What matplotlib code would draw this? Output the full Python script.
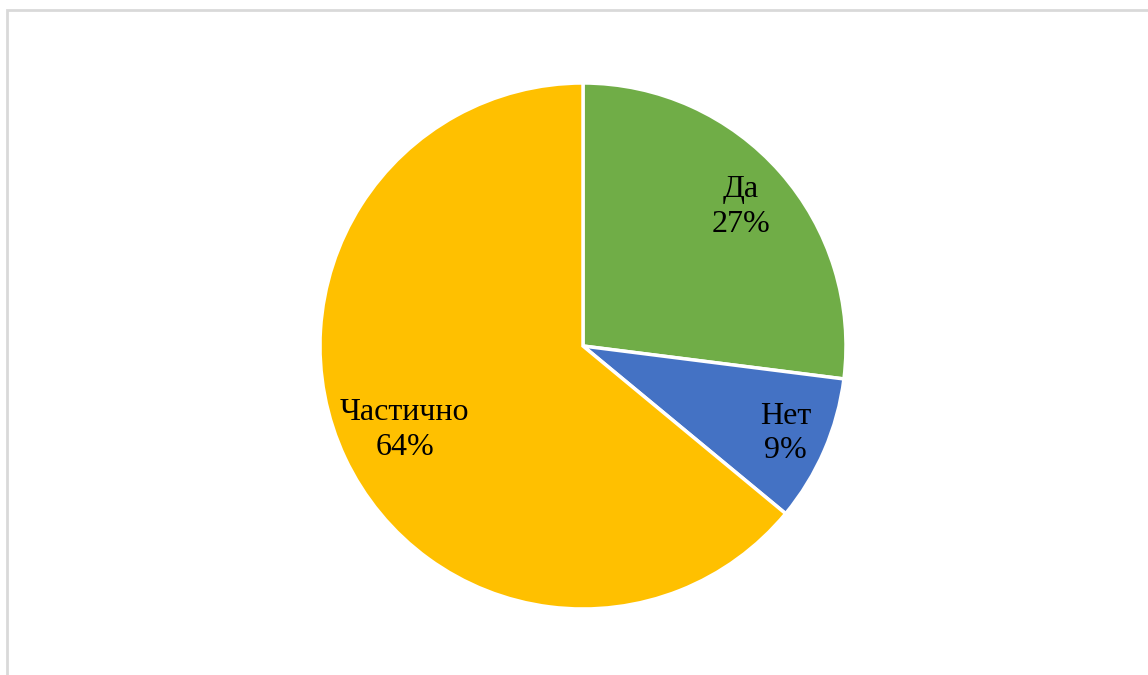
import matplotlib
matplotlib.use("Agg")
import matplotlib.pyplot as plt
import numpy as np
from matplotlib.patches import Rectangle

categories = ["Да", "Нет", "Частично"]
shares = [27, 9, 64]
colors = ["#70AD47", "#4472C4", "#FFC000"]
label_radius = [0.80, 0.84, 0.75]

plt.rcParams["font.family"] = ["Liberation Serif", "DejaVu Serif"]

fig = plt.figure(figsize=(11.48, 6.75), dpi=100)
fig.patch.set_facecolor("white")

# light frame around the chart area
fig.patches.append(Rectangle((7 / 1148, -0.05), 1.2, 1 - 10 / 675 + 0.05,
                             transform=fig.transFigure, fill=False,
                             edgecolor="#D9D9D9", linewidth=2))

R = 263 / 675
cx, cy = 583 / 1148, 1 - 346 / 675
ax = fig.add_axes([cx - R * 675 / 1148, cy - R, 2 * R * 675 / 1148, 2 * R])

wedges, _ = ax.pie(shares, colors=colors, startangle=90, counterclock=False,
                   radius=1.0, wedgeprops=dict(edgecolor="white", linewidth=2.5))
for w, cat, val, d in zip(wedges, categories, shares, label_radius):
    ang = np.deg2rad((w.theta1 + w.theta2) / 2)
    ax.text(d * np.cos(ang), d * np.sin(ang), f"{cat}\n{val}%", ha="center",
            va="center", fontsize=23, linespacing=1.25, color="black")
ax.set_xlim(-1, 1)
ax.set_ylim(-1, 1)
ax.set_aspect("equal")
ax.axis("off")

fig.savefig("out.png", dpi=100)
